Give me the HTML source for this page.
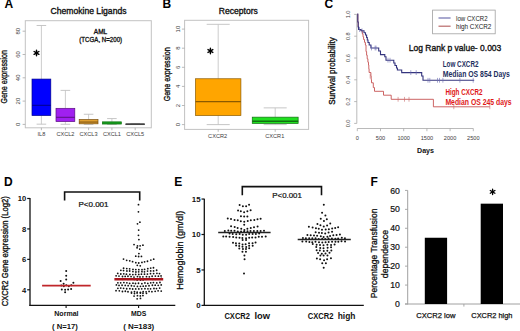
<!DOCTYPE html>
<html><head><meta charset="utf-8"><style>
html,body{margin:0;padding:0;background:#fff;width:520px;height:331px;overflow:hidden}
svg{display:block}
text{font-family:"Liberation Sans", sans-serif}
</style></head><body>
<svg width="520" height="331" viewBox="0 0 520 331">
<rect width="520" height="331" fill="#fff"/>
<text x="4.5" y="8.4" font-size="12" fill="#000" font-weight="bold" text-anchor="start">A</text>
<text x="162.6" y="8.1" font-size="12" fill="#000" font-weight="bold" text-anchor="start">B</text>
<text x="324.6" y="8.3" font-size="12" fill="#000" font-weight="bold" text-anchor="start">C</text>
<text x="3.9" y="186.4" font-size="12" fill="#000" font-weight="bold" text-anchor="start">D</text>
<text x="174.2" y="186.4" font-size="12" fill="#000" font-weight="bold" text-anchor="start">E</text>
<text x="370.6" y="185.8" font-size="12" fill="#000" font-weight="bold" text-anchor="start">F</text>
<rect x="25.30" y="20.70" width="126.00" height="107.10" fill="none" stroke="#c2c2c2" stroke-width="1"/>
<text x="50.5" y="13.8" font-size="9.0" fill="#111" font-weight="normal" text-anchor="start" textLength="76" lengthAdjust="spacingAndGlyphs" stroke="#111" stroke-width="0.35">Chemokine Ligands</text>
<text x="100.5" y="33.8" font-size="6.4" fill="#111" font-weight="normal" text-anchor="middle" textLength="13.4" lengthAdjust="spacingAndGlyphs" stroke="#111" stroke-width="0.3">AML</text>
<text x="100.7" y="42.4" font-size="6.4" fill="#111" font-weight="normal" text-anchor="middle" textLength="42.8" lengthAdjust="spacingAndGlyphs" stroke="#111" stroke-width="0.3">(TCGA, N=200)</text>
<line x1="22.60" y1="124.40" x2="25.30" y2="124.40" stroke="#a8a8a8" stroke-width="0.8"/>
<text transform="translate(19.7,124.4) rotate(-90)" font-size="6.0" fill="#3c3c3c" font-weight="normal" text-anchor="middle">0</text>
<line x1="22.60" y1="101.10" x2="25.30" y2="101.10" stroke="#a8a8a8" stroke-width="0.8"/>
<text transform="translate(19.7,101.10000000000001) rotate(-90)" font-size="6.0" fill="#3c3c3c" font-weight="normal" text-anchor="middle">20</text>
<line x1="22.60" y1="77.80" x2="25.30" y2="77.80" stroke="#a8a8a8" stroke-width="0.8"/>
<text transform="translate(19.7,77.80000000000001) rotate(-90)" font-size="6.0" fill="#3c3c3c" font-weight="normal" text-anchor="middle">40</text>
<line x1="22.60" y1="54.50" x2="25.30" y2="54.50" stroke="#a8a8a8" stroke-width="0.8"/>
<text transform="translate(19.7,54.5) rotate(-90)" font-size="6.0" fill="#3c3c3c" font-weight="normal" text-anchor="middle">60</text>
<line x1="22.60" y1="31.20" x2="25.30" y2="31.20" stroke="#a8a8a8" stroke-width="0.8"/>
<text transform="translate(19.7,31.200000000000003) rotate(-90)" font-size="6.0" fill="#3c3c3c" font-weight="normal" text-anchor="middle">80</text>
<text transform="translate(6.8,76.8) rotate(-90)" font-size="9.3" fill="#111" font-weight="normal" text-anchor="middle" textLength="53.6" lengthAdjust="spacingAndGlyphs" stroke="#111" stroke-width="0.35">Gene expression</text>
<line x1="41.40" y1="79.08" x2="41.40" y2="25.49" stroke="#c0c0c0" stroke-width="0.8"/>
<line x1="36.60" y1="25.49" x2="46.20" y2="25.49" stroke="#c0c0c0" stroke-width="0.9"/>
<line x1="41.40" y1="115.55" x2="41.40" y2="124.17" stroke="#c0c0c0" stroke-width="0.8"/>
<line x1="36.60" y1="124.17" x2="46.20" y2="124.17" stroke="#c0c0c0" stroke-width="0.9"/>
<rect x="32.00" y="79.08" width="18.80" height="36.46" fill="#0000ff" stroke="#00008a" stroke-width="0.7"/>
<line x1="32.00" y1="105.29" x2="50.80" y2="105.29" stroke="#00008a" stroke-width="1.0"/>
<line x1="41.40" y1="127.80" x2="41.40" y2="130.20" stroke="#a8a8a8" stroke-width="0.8"/>
<line x1="65.40" y1="108.32" x2="65.40" y2="90.38" stroke="#c0c0c0" stroke-width="0.8"/>
<line x1="60.60" y1="90.38" x2="70.20" y2="90.38" stroke="#c0c0c0" stroke-width="0.9"/>
<line x1="65.40" y1="121.60" x2="65.40" y2="124.28" stroke="#c0c0c0" stroke-width="0.8"/>
<line x1="60.60" y1="124.28" x2="70.20" y2="124.28" stroke="#c0c0c0" stroke-width="0.9"/>
<rect x="56.00" y="108.32" width="18.80" height="13.28" fill="#a020f0" stroke="#5a1080" stroke-width="0.7"/>
<line x1="56.00" y1="117.29" x2="74.80" y2="117.29" stroke="#5a1080" stroke-width="1.0"/>
<line x1="65.40" y1="127.80" x2="65.40" y2="130.20" stroke="#a8a8a8" stroke-width="0.8"/>
<line x1="88.60" y1="119.51" x2="88.60" y2="114.26" stroke="#c0c0c0" stroke-width="0.8"/>
<line x1="83.80" y1="114.26" x2="93.40" y2="114.26" stroke="#c0c0c0" stroke-width="0.9"/>
<line x1="88.60" y1="123.82" x2="88.60" y2="124.40" stroke="#c0c0c0" stroke-width="0.8"/>
<line x1="83.80" y1="124.40" x2="93.40" y2="124.40" stroke="#c0c0c0" stroke-width="0.9"/>
<rect x="79.20" y="119.51" width="18.80" height="4.31" fill="#e0a030" stroke="#7a5010" stroke-width="0.7"/>
<line x1="79.20" y1="122.07" x2="98.00" y2="122.07" stroke="#7a5010" stroke-width="1.0"/>
<line x1="88.60" y1="127.80" x2="88.60" y2="130.20" stroke="#a8a8a8" stroke-width="0.8"/>
<line x1="111.90" y1="121.84" x2="111.90" y2="118.58" stroke="#c0c0c0" stroke-width="0.8"/>
<line x1="107.10" y1="118.58" x2="116.70" y2="118.58" stroke="#c0c0c0" stroke-width="0.9"/>
<line x1="111.90" y1="124.05" x2="111.90" y2="124.40" stroke="#c0c0c0" stroke-width="0.8"/>
<line x1="107.10" y1="124.40" x2="116.70" y2="124.40" stroke="#c0c0c0" stroke-width="0.9"/>
<rect x="102.50" y="121.84" width="18.80" height="2.21" fill="#18c828" stroke="#127012" stroke-width="0.7"/>
<line x1="102.50" y1="123.00" x2="121.30" y2="123.00" stroke="#127012" stroke-width="1.0"/>
<line x1="111.90" y1="127.80" x2="111.90" y2="130.20" stroke="#a8a8a8" stroke-width="0.8"/>
<line x1="135.20" y1="123.88" x2="135.20" y2="123.47" stroke="#c0c0c0" stroke-width="0.8"/>
<line x1="130.40" y1="123.47" x2="140.00" y2="123.47" stroke="#c0c0c0" stroke-width="0.9"/>
<line x1="135.20" y1="124.23" x2="135.20" y2="124.40" stroke="#c0c0c0" stroke-width="0.8"/>
<line x1="130.40" y1="124.40" x2="140.00" y2="124.40" stroke="#c0c0c0" stroke-width="0.9"/>
<rect x="125.80" y="123.88" width="18.80" height="0.80" fill="#707070" stroke="#404040" stroke-width="0.7"/>
<line x1="125.80" y1="124.05" x2="144.60" y2="124.05" stroke="#404040" stroke-width="1.0"/>
<line x1="135.20" y1="127.80" x2="135.20" y2="130.20" stroke="#a8a8a8" stroke-width="0.8"/>
<text x="41.4" y="136.4" font-size="5.6" fill="#3c3c3c" font-weight="normal" text-anchor="middle">IL8</text>
<text x="65.4" y="136.4" font-size="5.6" fill="#3c3c3c" font-weight="normal" text-anchor="middle">CXCL2</text>
<text x="88.6" y="136.4" font-size="5.6" fill="#3c3c3c" font-weight="normal" text-anchor="middle">CXCL3</text>
<text x="111.9" y="136.4" font-size="5.6" fill="#3c3c3c" font-weight="normal" text-anchor="middle">CXCL1</text>
<text x="135.2" y="136.4" font-size="5.6" fill="#3c3c3c" font-weight="normal" text-anchor="middle">CXCL5</text>
<path d="M36.50,50.10L36.50,55.70M34.08,51.50L38.92,54.30M38.92,51.50L34.08,54.30" stroke="#000" stroke-width="1.4" stroke-linecap="round"/>
<circle cx="36.5" cy="52.9" r="1.26" fill="#000"/>
<rect x="184.60" y="20.30" width="124.00" height="109.10" fill="none" stroke="#c2c2c2" stroke-width="1"/>
<text x="218.8" y="13.5" font-size="9.0" fill="#111" font-weight="normal" text-anchor="start" textLength="39" lengthAdjust="spacingAndGlyphs" stroke="#111" stroke-width="0.35">Receptors</text>
<line x1="181.90" y1="124.60" x2="184.60" y2="124.60" stroke="#a8a8a8" stroke-width="0.8"/>
<text transform="translate(179.5,124.6) rotate(-90)" font-size="6.0" fill="#3c3c3c" font-weight="normal" text-anchor="middle">0</text>
<line x1="181.90" y1="105.50" x2="184.60" y2="105.50" stroke="#a8a8a8" stroke-width="0.8"/>
<text transform="translate(179.5,105.5) rotate(-90)" font-size="6.0" fill="#3c3c3c" font-weight="normal" text-anchor="middle">2</text>
<line x1="181.90" y1="86.40" x2="184.60" y2="86.40" stroke="#a8a8a8" stroke-width="0.8"/>
<text transform="translate(179.5,86.39999999999999) rotate(-90)" font-size="6.0" fill="#3c3c3c" font-weight="normal" text-anchor="middle">4</text>
<line x1="181.90" y1="67.30" x2="184.60" y2="67.30" stroke="#a8a8a8" stroke-width="0.8"/>
<text transform="translate(179.5,67.29999999999998) rotate(-90)" font-size="6.0" fill="#3c3c3c" font-weight="normal" text-anchor="middle">6</text>
<line x1="181.90" y1="48.20" x2="184.60" y2="48.20" stroke="#a8a8a8" stroke-width="0.8"/>
<text transform="translate(179.5,48.19999999999999) rotate(-90)" font-size="6.0" fill="#3c3c3c" font-weight="normal" text-anchor="middle">8</text>
<line x1="181.90" y1="29.10" x2="184.60" y2="29.10" stroke="#a8a8a8" stroke-width="0.8"/>
<text transform="translate(179.5,29.099999999999994) rotate(-90)" font-size="6.0" fill="#3c3c3c" font-weight="normal" text-anchor="middle">10</text>
<text transform="translate(169.6,74.2) rotate(-90)" font-size="9.3" fill="#111" font-weight="normal" text-anchor="middle" textLength="54" lengthAdjust="spacingAndGlyphs" stroke="#111" stroke-width="0.35">Gene expression</text>
<line x1="218.20" y1="78.76" x2="218.20" y2="24.32" stroke="#c0c0c0" stroke-width="0.8"/>
<line x1="206.70" y1="24.32" x2="229.70" y2="24.32" stroke="#c0c0c0" stroke-width="0.9"/>
<line x1="218.20" y1="115.53" x2="218.20" y2="124.60" stroke="#c0c0c0" stroke-width="0.8"/>
<line x1="206.70" y1="124.60" x2="229.70" y2="124.60" stroke="#c0c0c0" stroke-width="0.9"/>
<rect x="195.50" y="78.76" width="45.40" height="36.77" fill="#ffa500" stroke="#8a5a00" stroke-width="0.7"/>
<line x1="195.50" y1="101.68" x2="240.90" y2="101.68" stroke="#8a5a00" stroke-width="1.3"/>
<line x1="218.20" y1="129.40" x2="218.20" y2="131.80" stroke="#a8a8a8" stroke-width="0.8"/>
<line x1="275.20" y1="117.15" x2="275.20" y2="107.89" stroke="#c0c0c0" stroke-width="0.8"/>
<line x1="263.70" y1="107.89" x2="286.70" y2="107.89" stroke="#c0c0c0" stroke-width="0.9"/>
<line x1="275.20" y1="123.45" x2="275.20" y2="124.60" stroke="#c0c0c0" stroke-width="0.8"/>
<line x1="263.70" y1="124.60" x2="286.70" y2="124.60" stroke="#c0c0c0" stroke-width="0.9"/>
<rect x="252.25" y="117.15" width="45.90" height="6.30" fill="#20e020" stroke="#107010" stroke-width="0.7"/>
<line x1="252.25" y1="121.26" x2="298.15" y2="121.26" stroke="#107010" stroke-width="1.3"/>
<line x1="275.20" y1="129.40" x2="275.20" y2="131.80" stroke="#a8a8a8" stroke-width="0.8"/>
<text x="217.6" y="137.8" font-size="5.6" fill="#3c3c3c" font-weight="normal" text-anchor="middle">CXCR2</text>
<text x="274.8" y="137.8" font-size="5.6" fill="#3c3c3c" font-weight="normal" text-anchor="middle">CXCR1</text>
<path d="M210.40,48.20L210.40,53.80M207.98,49.60L212.82,52.40M212.82,49.60L207.98,52.40" stroke="#000" stroke-width="1.4" stroke-linecap="round"/>
<circle cx="210.4" cy="51.0" r="1.26" fill="#000"/>
<line x1="356.80" y1="14.40" x2="356.80" y2="123.40" stroke="#a8a8a8" stroke-width="0.8"/>
<line x1="354.20" y1="123.40" x2="356.80" y2="123.40" stroke="#a8a8a8" stroke-width="0.8"/>
<text transform="translate(350.2,123.4) rotate(-90)" font-size="5.6" fill="#3c3c3c" font-weight="normal" text-anchor="middle">0.0</text>
<line x1="354.20" y1="101.60" x2="356.80" y2="101.60" stroke="#a8a8a8" stroke-width="0.8"/>
<text transform="translate(350.2,101.60000000000001) rotate(-90)" font-size="5.6" fill="#3c3c3c" font-weight="normal" text-anchor="middle">0.2</text>
<line x1="354.20" y1="79.80" x2="356.80" y2="79.80" stroke="#a8a8a8" stroke-width="0.8"/>
<text transform="translate(350.2,79.80000000000001) rotate(-90)" font-size="5.6" fill="#3c3c3c" font-weight="normal" text-anchor="middle">0.4</text>
<line x1="354.20" y1="58.00" x2="356.80" y2="58.00" stroke="#a8a8a8" stroke-width="0.8"/>
<text transform="translate(350.2,58.000000000000014) rotate(-90)" font-size="5.6" fill="#3c3c3c" font-weight="normal" text-anchor="middle">0.6</text>
<line x1="354.20" y1="36.20" x2="356.80" y2="36.20" stroke="#a8a8a8" stroke-width="0.8"/>
<text transform="translate(350.2,36.2) rotate(-90)" font-size="5.6" fill="#3c3c3c" font-weight="normal" text-anchor="middle">0.8</text>
<line x1="354.20" y1="14.40" x2="356.80" y2="14.40" stroke="#a8a8a8" stroke-width="0.8"/>
<text transform="translate(350.2,14.400000000000006) rotate(-90)" font-size="5.6" fill="#3c3c3c" font-weight="normal" text-anchor="middle">1.0</text>
<line x1="357.30" y1="128.50" x2="473.30" y2="128.50" stroke="#a8a8a8" stroke-width="0.8"/>
<line x1="357.30" y1="128.50" x2="357.30" y2="131.20" stroke="#a8a8a8" stroke-width="0.8"/>
<text x="357.3" y="140.0" font-size="5.6" fill="#3c3c3c" font-weight="normal" text-anchor="middle">0</text>
<line x1="380.50" y1="128.50" x2="380.50" y2="131.20" stroke="#a8a8a8" stroke-width="0.8"/>
<text x="380.5" y="140.0" font-size="5.6" fill="#3c3c3c" font-weight="normal" text-anchor="middle">500</text>
<line x1="403.70" y1="128.50" x2="403.70" y2="131.20" stroke="#a8a8a8" stroke-width="0.8"/>
<text x="403.7" y="140.0" font-size="5.6" fill="#3c3c3c" font-weight="normal" text-anchor="middle">1000</text>
<line x1="426.90" y1="128.50" x2="426.90" y2="131.20" stroke="#a8a8a8" stroke-width="0.8"/>
<text x="426.9" y="140.0" font-size="5.6" fill="#3c3c3c" font-weight="normal" text-anchor="middle">1500</text>
<line x1="450.10" y1="128.50" x2="450.10" y2="131.20" stroke="#a8a8a8" stroke-width="0.8"/>
<text x="450.1" y="140.0" font-size="5.6" fill="#3c3c3c" font-weight="normal" text-anchor="middle">2000</text>
<line x1="473.30" y1="128.50" x2="473.30" y2="131.20" stroke="#a8a8a8" stroke-width="0.8"/>
<text x="473.3" y="140.0" font-size="5.6" fill="#3c3c3c" font-weight="normal" text-anchor="middle">2500</text>
<text x="425.5" y="153.0" font-size="8.0" fill="#111" font-weight="bold" text-anchor="middle" textLength="17" lengthAdjust="spacingAndGlyphs">Days</text>
<text transform="translate(335.2,71.0) rotate(-90)" font-size="9.3" fill="#111" font-weight="normal" text-anchor="middle" textLength="67.3" lengthAdjust="spacingAndGlyphs" stroke="#111" stroke-width="0.35">Survival probability</text>
<rect x="432.60" y="10.10" width="62.60" height="23.70" fill="#fff" stroke="#a0a0a0" stroke-width="0.8"/>
<line x1="438.50" y1="18.00" x2="450.60" y2="18.00" stroke="#7070b0" stroke-width="1.2"/>
<line x1="438.50" y1="26.20" x2="450.60" y2="26.20" stroke="#b86868" stroke-width="1.2"/>
<text x="456.1" y="20.5" font-size="6.3" fill="#222" font-weight="normal" text-anchor="start" textLength="31.5" lengthAdjust="spacingAndGlyphs">low CXCR2</text>
<text x="456.1" y="28.6" font-size="6.3" fill="#222" font-weight="normal" text-anchor="start" textLength="35.3" lengthAdjust="spacingAndGlyphs">high CXCR2</text>
<text x="408.8" y="50.6" font-size="9.0" fill="#111" font-weight="normal" text-anchor="start" textLength="92.5" lengthAdjust="spacingAndGlyphs" stroke="#111" stroke-width="0.35">Log Rank p value- 0.003</text>
<text x="442.7" y="66.9" font-size="8.4" fill="#1c2f5e" font-weight="bold" text-anchor="start" textLength="35.8" lengthAdjust="spacingAndGlyphs">Low CXCR2</text>
<text x="442.7" y="76.5" font-size="8.4" fill="#1c2f5e" font-weight="bold" text-anchor="start" textLength="67.2" lengthAdjust="spacingAndGlyphs">Median OS 854 Days</text>
<text x="445.4" y="95.3" font-size="8.4" fill="#e01818" font-weight="bold" text-anchor="start" textLength="37.2" lengthAdjust="spacingAndGlyphs">High CXCR2</text>
<text x="445.4" y="104.9" font-size="8.4" fill="#e01818" font-weight="bold" text-anchor="start" textLength="66.3" lengthAdjust="spacingAndGlyphs">Median OS 245 days</text>
<polyline points="357.30,14.10 357.80,14.10 357.80,22.00 358.20,22.00 358.20,27.00 358.60,27.00 358.60,29.50 361.00,29.50 361.00,30.80 362.40,30.80 362.40,34.00 363.00,34.00 363.00,36.80 363.60,36.80 363.60,39.50 364.50,39.50 364.50,42.30 365.40,42.30 365.40,45.00 366.00,45.00 366.00,51.60 366.60,51.60 366.60,55.20 367.20,55.20 367.20,58.80 367.90,58.80 367.90,62.20 368.50,62.20 368.50,65.00 368.80,65.00 368.80,68.80 369.10,68.80 369.10,72.50 370.90,72.50 370.90,76.10 371.20,76.10 371.20,79.50 371.50,79.50 371.50,82.80 373.30,82.80 373.30,87.60 374.50,87.60 374.50,91.30 383.50,91.30 383.50,95.20 391.20,95.20 391.20,99.30 433.40,99.30 433.40,106.80 489.80,106.80 489.80,106.80" fill="none" stroke="#c65252" stroke-width="0.9" stroke-linejoin="miter"/>
<polyline points="357.30,14.10 357.80,14.10 357.80,22.00 358.20,22.00 358.20,27.00 358.60,27.00 358.60,29.50 361.00,29.50 361.00,30.80 364.00,30.80 364.00,32.80 365.50,32.80 365.50,35.00 366.60,35.00 366.60,37.50 367.30,37.50 367.30,40.00 368.00,40.00 368.00,42.50 369.20,42.50 369.20,45.00 370.90,45.00 370.90,48.00 378.70,48.00 378.70,51.00 380.50,51.00 380.50,54.60 384.80,54.60 384.80,56.80 386.00,56.80 386.00,60.20 393.80,60.20 393.80,63.00 395.00,63.00 395.00,65.50 396.50,65.50 396.50,68.00 397.40,68.00 397.40,70.00 401.70,70.00 401.70,72.60 421.70,72.60 421.70,76.00 423.00,76.00 423.00,80.30 474.20,80.30 474.20,80.30" fill="none" stroke="#34347e" stroke-width="1.1" stroke-linejoin="miter"/>
<line x1="359.50" y1="27.10" x2="359.50" y2="31.90" stroke="#6a6ab0" stroke-width="0.6"/>
<line x1="362.00" y1="28.40" x2="362.00" y2="33.20" stroke="#6a6ab0" stroke-width="0.6"/>
<line x1="371.50" y1="45.60" x2="371.50" y2="50.40" stroke="#6a6ab0" stroke-width="0.6"/>
<line x1="375.10" y1="45.60" x2="375.10" y2="50.40" stroke="#6a6ab0" stroke-width="0.6"/>
<line x1="376.00" y1="45.60" x2="376.00" y2="50.40" stroke="#6a6ab0" stroke-width="0.6"/>
<line x1="388.00" y1="57.80" x2="388.00" y2="62.60" stroke="#6a6ab0" stroke-width="0.6"/>
<line x1="390.00" y1="57.80" x2="390.00" y2="62.60" stroke="#6a6ab0" stroke-width="0.6"/>
<line x1="410.80" y1="70.20" x2="410.80" y2="75.00" stroke="#6a6ab0" stroke-width="0.6"/>
<line x1="416.20" y1="70.20" x2="416.20" y2="75.00" stroke="#6a6ab0" stroke-width="0.6"/>
<line x1="428.00" y1="77.90" x2="428.00" y2="82.70" stroke="#6a6ab0" stroke-width="0.6"/>
<line x1="429.80" y1="77.90" x2="429.80" y2="82.70" stroke="#6a6ab0" stroke-width="0.6"/>
<line x1="437.50" y1="77.90" x2="437.50" y2="82.70" stroke="#6a6ab0" stroke-width="0.6"/>
<line x1="439.50" y1="77.90" x2="439.50" y2="82.70" stroke="#6a6ab0" stroke-width="0.6"/>
<line x1="442.90" y1="77.90" x2="442.90" y2="82.70" stroke="#6a6ab0" stroke-width="0.6"/>
<line x1="459.90" y1="77.90" x2="459.90" y2="82.70" stroke="#6a6ab0" stroke-width="0.6"/>
<line x1="473.20" y1="77.90" x2="473.20" y2="82.70" stroke="#6a6ab0" stroke-width="0.6"/>
<line x1="370.20" y1="73.70" x2="370.20" y2="78.50" stroke="#c86a6a" stroke-width="0.6"/>
<line x1="398.10" y1="96.90" x2="398.10" y2="101.70" stroke="#c86a6a" stroke-width="0.6"/>
<line x1="404.50" y1="96.90" x2="404.50" y2="101.70" stroke="#c86a6a" stroke-width="0.6"/>
<line x1="409.00" y1="96.90" x2="409.00" y2="101.70" stroke="#c86a6a" stroke-width="0.6"/>
<line x1="453.80" y1="104.40" x2="453.80" y2="109.20" stroke="#c86a6a" stroke-width="0.6"/>
<line x1="489.80" y1="104.40" x2="489.80" y2="109.20" stroke="#c86a6a" stroke-width="0.6"/>
<line x1="30.00" y1="198.00" x2="30.00" y2="306.00" stroke="#111" stroke-width="1.3"/>
<line x1="29.40" y1="305.40" x2="175.30" y2="305.40" stroke="#111" stroke-width="1.3"/>
<line x1="27.20" y1="289.80" x2="30.00" y2="289.80" stroke="#111" stroke-width="1.2"/>
<text x="26.3" y="292.5" font-size="7.6" fill="#111" font-weight="bold" text-anchor="end">4</text>
<line x1="27.20" y1="259.36" x2="30.00" y2="259.36" stroke="#111" stroke-width="1.2"/>
<text x="26.3" y="262.06" font-size="7.6" fill="#111" font-weight="bold" text-anchor="end">6</text>
<line x1="27.20" y1="228.92" x2="30.00" y2="228.92" stroke="#111" stroke-width="1.2"/>
<text x="26.3" y="231.62" font-size="7.6" fill="#111" font-weight="bold" text-anchor="end">8</text>
<line x1="27.20" y1="198.48" x2="30.00" y2="198.48" stroke="#111" stroke-width="1.2"/>
<text x="26.3" y="201.18" font-size="7.6" fill="#111" font-weight="bold" text-anchor="end">10</text>
<line x1="66.10" y1="305.40" x2="66.10" y2="308.00" stroke="#111" stroke-width="1.1"/>
<line x1="138.60" y1="305.40" x2="138.60" y2="308.00" stroke="#111" stroke-width="1.1"/>
<polyline points="64.60,200.50 64.60,192.00 139.70,192.00 139.70,200.50" fill="none" stroke="#111" stroke-width="1.6" stroke-linejoin="miter"/>
<text x="78.5" y="206.6" font-size="7.4" fill="#111" font-weight="normal" text-anchor="start" textLength="30" lengthAdjust="spacingAndGlyphs" stroke="#111" stroke-width="0.22">P&lt;0.001</text>
<text x="66.4" y="316.4" font-size="7.1" fill="#111" font-weight="bold" text-anchor="middle" textLength="24.3" lengthAdjust="spacingAndGlyphs">Normal</text>
<text x="65.0" y="328.6" font-size="7.1" fill="#111" font-weight="bold" text-anchor="middle" textLength="25.9" lengthAdjust="spacingAndGlyphs">( N=17)</text>
<text x="138.7" y="316.4" font-size="7.1" fill="#111" font-weight="bold" text-anchor="middle" textLength="15.3" lengthAdjust="spacingAndGlyphs">MDS</text>
<text x="138.7" y="328.6" font-size="7.1" fill="#111" font-weight="bold" text-anchor="middle" textLength="31.1" lengthAdjust="spacingAndGlyphs">( N=183)</text>
<text transform="translate(7.6,251.3) rotate(-90)" font-size="9.2" fill="#111" font-weight="normal" text-anchor="middle" textLength="110" lengthAdjust="spacingAndGlyphs" stroke="#111" stroke-width="0.35">CXCR2 Gene expression (Log2)</text>
<circle cx="66.20" cy="271.10" r="1.0" fill="#111"/>
<circle cx="66.20" cy="275.70" r="1.0" fill="#111"/>
<circle cx="66.20" cy="279.50" r="1.0" fill="#111"/>
<circle cx="60.60" cy="281.00" r="1.0" fill="#111"/>
<circle cx="73.40" cy="282.80" r="1.0" fill="#111"/>
<circle cx="61.30" cy="285.50" r="1.0" fill="#111"/>
<circle cx="63.80" cy="286.20" r="1.0" fill="#111"/>
<circle cx="66.30" cy="285.20" r="1.0" fill="#111"/>
<circle cx="68.80" cy="286.30" r="1.0" fill="#111"/>
<circle cx="71.30" cy="285.30" r="1.0" fill="#111"/>
<circle cx="61.80" cy="289.40" r="1.0" fill="#111"/>
<circle cx="65.10" cy="289.80" r="1.0" fill="#111"/>
<circle cx="68.10" cy="289.60" r="1.0" fill="#111"/>
<circle cx="71.10" cy="288.90" r="1.0" fill="#111"/>
<circle cx="65.10" cy="292.20" r="1.0" fill="#111"/>
<circle cx="63.60" cy="283.80" r="1.0" fill="#111"/>
<circle cx="138.49" cy="204.68" r="0.9" fill="#111"/>
<circle cx="138.44" cy="211.81" r="0.9" fill="#111"/>
<circle cx="139.92" cy="222.13" r="0.9" fill="#111"/>
<circle cx="137.50" cy="223.79" r="0.9" fill="#111"/>
<circle cx="138.66" cy="230.08" r="0.9" fill="#111"/>
<circle cx="138.45" cy="235.30" r="0.9" fill="#111"/>
<circle cx="138.90" cy="239.55" r="0.9" fill="#111"/>
<circle cx="134.03" cy="244.54" r="0.9" fill="#111"/>
<circle cx="137.47" cy="245.89" r="0.9" fill="#111"/>
<circle cx="140.14" cy="245.85" r="0.9" fill="#111"/>
<circle cx="142.93" cy="245.13" r="0.9" fill="#111"/>
<circle cx="137.07" cy="247.75" r="0.9" fill="#111"/>
<circle cx="139.77" cy="249.05" r="0.9" fill="#111"/>
<circle cx="138.89" cy="253.57" r="0.9" fill="#111"/>
<circle cx="135.75" cy="256.18" r="0.9" fill="#111"/>
<circle cx="138.62" cy="256.50" r="0.9" fill="#111"/>
<circle cx="141.44" cy="256.43" r="0.9" fill="#111"/>
<circle cx="123.52" cy="259.09" r="0.9" fill="#111"/>
<circle cx="126.66" cy="260.29" r="0.9" fill="#111"/>
<circle cx="129.75" cy="260.79" r="0.9" fill="#111"/>
<circle cx="132.58" cy="261.65" r="0.9" fill="#111"/>
<circle cx="135.82" cy="262.65" r="0.9" fill="#111"/>
<circle cx="138.74" cy="263.02" r="0.9" fill="#111"/>
<circle cx="141.93" cy="262.46" r="0.9" fill="#111"/>
<circle cx="144.57" cy="261.84" r="0.9" fill="#111"/>
<circle cx="147.47" cy="261.26" r="0.9" fill="#111"/>
<circle cx="150.85" cy="260.10" r="0.9" fill="#111"/>
<circle cx="153.69" cy="259.16" r="0.9" fill="#111"/>
<circle cx="137.30" cy="265.28" r="0.9" fill="#111"/>
<circle cx="140.24" cy="265.79" r="0.9" fill="#111"/>
<circle cx="123.59" cy="268.26" r="0.9" fill="#111"/>
<circle cx="126.76" cy="268.54" r="0.9" fill="#111"/>
<circle cx="129.67" cy="268.86" r="0.9" fill="#111"/>
<circle cx="132.97" cy="269.44" r="0.9" fill="#111"/>
<circle cx="135.80" cy="269.58" r="0.9" fill="#111"/>
<circle cx="138.82" cy="269.69" r="0.9" fill="#111"/>
<circle cx="142.00" cy="269.70" r="0.9" fill="#111"/>
<circle cx="144.57" cy="269.43" r="0.9" fill="#111"/>
<circle cx="147.80" cy="268.72" r="0.9" fill="#111"/>
<circle cx="150.68" cy="268.07" r="0.9" fill="#111"/>
<circle cx="153.47" cy="267.77" r="0.9" fill="#111"/>
<circle cx="120.86" cy="270.29" r="0.9" fill="#111"/>
<circle cx="123.55" cy="270.57" r="0.9" fill="#111"/>
<circle cx="126.92" cy="270.99" r="0.9" fill="#111"/>
<circle cx="129.67" cy="271.01" r="0.9" fill="#111"/>
<circle cx="132.93" cy="271.57" r="0.9" fill="#111"/>
<circle cx="135.92" cy="271.99" r="0.9" fill="#111"/>
<circle cx="138.65" cy="271.84" r="0.9" fill="#111"/>
<circle cx="141.93" cy="271.67" r="0.9" fill="#111"/>
<circle cx="144.49" cy="271.85" r="0.9" fill="#111"/>
<circle cx="147.54" cy="271.07" r="0.9" fill="#111"/>
<circle cx="150.69" cy="270.88" r="0.9" fill="#111"/>
<circle cx="153.56" cy="270.90" r="0.9" fill="#111"/>
<circle cx="156.65" cy="270.25" r="0.9" fill="#111"/>
<circle cx="117.74" cy="273.41" r="0.9" fill="#111"/>
<circle cx="120.81" cy="273.99" r="0.9" fill="#111"/>
<circle cx="123.77" cy="273.85" r="0.9" fill="#111"/>
<circle cx="126.43" cy="274.14" r="0.9" fill="#111"/>
<circle cx="129.87" cy="274.47" r="0.9" fill="#111"/>
<circle cx="132.88" cy="274.62" r="0.9" fill="#111"/>
<circle cx="135.64" cy="274.45" r="0.9" fill="#111"/>
<circle cx="138.78" cy="274.42" r="0.9" fill="#111"/>
<circle cx="141.44" cy="274.22" r="0.9" fill="#111"/>
<circle cx="144.50" cy="274.15" r="0.9" fill="#111"/>
<circle cx="147.43" cy="274.07" r="0.9" fill="#111"/>
<circle cx="150.49" cy="273.66" r="0.9" fill="#111"/>
<circle cx="153.62" cy="273.56" r="0.9" fill="#111"/>
<circle cx="156.92" cy="273.34" r="0.9" fill="#111"/>
<circle cx="159.49" cy="273.58" r="0.9" fill="#111"/>
<circle cx="116.11" cy="275.83" r="0.9" fill="#111"/>
<circle cx="118.97" cy="276.04" r="0.9" fill="#111"/>
<circle cx="122.50" cy="276.51" r="0.9" fill="#111"/>
<circle cx="125.19" cy="276.38" r="0.9" fill="#111"/>
<circle cx="127.96" cy="276.24" r="0.9" fill="#111"/>
<circle cx="131.06" cy="276.56" r="0.9" fill="#111"/>
<circle cx="134.00" cy="277.03" r="0.9" fill="#111"/>
<circle cx="137.47" cy="276.60" r="0.9" fill="#111"/>
<circle cx="139.99" cy="276.95" r="0.9" fill="#111"/>
<circle cx="142.92" cy="276.83" r="0.9" fill="#111"/>
<circle cx="146.49" cy="276.69" r="0.9" fill="#111"/>
<circle cx="149.32" cy="276.79" r="0.9" fill="#111"/>
<circle cx="152.12" cy="276.23" r="0.9" fill="#111"/>
<circle cx="155.36" cy="276.03" r="0.9" fill="#111"/>
<circle cx="158.37" cy="276.16" r="0.9" fill="#111"/>
<circle cx="161.03" cy="275.88" r="0.9" fill="#111"/>
<circle cx="116.49" cy="279.02" r="0.9" fill="#111"/>
<circle cx="119.38" cy="279.18" r="0.9" fill="#111"/>
<circle cx="122.34" cy="279.29" r="0.9" fill="#111"/>
<circle cx="125.21" cy="279.01" r="0.9" fill="#111"/>
<circle cx="127.92" cy="279.23" r="0.9" fill="#111"/>
<circle cx="131.07" cy="279.14" r="0.9" fill="#111"/>
<circle cx="134.32" cy="279.43" r="0.9" fill="#111"/>
<circle cx="137.17" cy="280.05" r="0.9" fill="#111"/>
<circle cx="140.49" cy="280.04" r="0.9" fill="#111"/>
<circle cx="143.12" cy="279.92" r="0.9" fill="#111"/>
<circle cx="146.04" cy="279.27" r="0.9" fill="#111"/>
<circle cx="149.02" cy="279.12" r="0.9" fill="#111"/>
<circle cx="152.44" cy="279.29" r="0.9" fill="#111"/>
<circle cx="155.19" cy="279.30" r="0.9" fill="#111"/>
<circle cx="158.38" cy="279.04" r="0.9" fill="#111"/>
<circle cx="161.30" cy="278.51" r="0.9" fill="#111"/>
<circle cx="117.87" cy="282.79" r="0.9" fill="#111"/>
<circle cx="120.69" cy="282.82" r="0.9" fill="#111"/>
<circle cx="123.87" cy="282.56" r="0.9" fill="#111"/>
<circle cx="126.88" cy="282.81" r="0.9" fill="#111"/>
<circle cx="129.64" cy="283.40" r="0.9" fill="#111"/>
<circle cx="132.97" cy="283.15" r="0.9" fill="#111"/>
<circle cx="135.50" cy="283.51" r="0.9" fill="#111"/>
<circle cx="138.49" cy="283.24" r="0.9" fill="#111"/>
<circle cx="141.88" cy="283.64" r="0.9" fill="#111"/>
<circle cx="144.90" cy="282.97" r="0.9" fill="#111"/>
<circle cx="147.79" cy="283.41" r="0.9" fill="#111"/>
<circle cx="150.73" cy="282.82" r="0.9" fill="#111"/>
<circle cx="153.41" cy="282.53" r="0.9" fill="#111"/>
<circle cx="156.79" cy="282.97" r="0.9" fill="#111"/>
<circle cx="159.96" cy="282.52" r="0.9" fill="#111"/>
<circle cx="116.42" cy="284.95" r="0.9" fill="#111"/>
<circle cx="119.03" cy="285.43" r="0.9" fill="#111"/>
<circle cx="122.08" cy="285.23" r="0.9" fill="#111"/>
<circle cx="125.25" cy="285.42" r="0.9" fill="#111"/>
<circle cx="128.15" cy="285.63" r="0.9" fill="#111"/>
<circle cx="131.45" cy="285.74" r="0.9" fill="#111"/>
<circle cx="134.17" cy="286.10" r="0.9" fill="#111"/>
<circle cx="137.44" cy="286.46" r="0.9" fill="#111"/>
<circle cx="140.45" cy="286.34" r="0.9" fill="#111"/>
<circle cx="143.22" cy="286.20" r="0.9" fill="#111"/>
<circle cx="145.91" cy="286.02" r="0.9" fill="#111"/>
<circle cx="149.01" cy="285.76" r="0.9" fill="#111"/>
<circle cx="152.38" cy="285.25" r="0.9" fill="#111"/>
<circle cx="155.18" cy="285.17" r="0.9" fill="#111"/>
<circle cx="158.23" cy="285.36" r="0.9" fill="#111"/>
<circle cx="161.21" cy="284.88" r="0.9" fill="#111"/>
<circle cx="117.87" cy="288.34" r="0.9" fill="#111"/>
<circle cx="120.74" cy="288.11" r="0.9" fill="#111"/>
<circle cx="123.57" cy="288.30" r="0.9" fill="#111"/>
<circle cx="126.70" cy="288.75" r="0.9" fill="#111"/>
<circle cx="129.86" cy="288.69" r="0.9" fill="#111"/>
<circle cx="132.67" cy="289.02" r="0.9" fill="#111"/>
<circle cx="135.70" cy="288.89" r="0.9" fill="#111"/>
<circle cx="138.82" cy="288.91" r="0.9" fill="#111"/>
<circle cx="141.72" cy="288.78" r="0.9" fill="#111"/>
<circle cx="144.96" cy="288.71" r="0.9" fill="#111"/>
<circle cx="147.93" cy="288.78" r="0.9" fill="#111"/>
<circle cx="150.56" cy="288.87" r="0.9" fill="#111"/>
<circle cx="153.97" cy="288.51" r="0.9" fill="#111"/>
<circle cx="156.48" cy="288.62" r="0.9" fill="#111"/>
<circle cx="159.67" cy="288.04" r="0.9" fill="#111"/>
<circle cx="116.04" cy="290.70" r="0.9" fill="#111"/>
<circle cx="119.30" cy="290.86" r="0.9" fill="#111"/>
<circle cx="122.44" cy="291.52" r="0.9" fill="#111"/>
<circle cx="125.33" cy="291.24" r="0.9" fill="#111"/>
<circle cx="127.99" cy="291.75" r="0.9" fill="#111"/>
<circle cx="131.48" cy="292.07" r="0.9" fill="#111"/>
<circle cx="134.47" cy="291.76" r="0.9" fill="#111"/>
<circle cx="137.19" cy="292.05" r="0.9" fill="#111"/>
<circle cx="140.40" cy="292.46" r="0.9" fill="#111"/>
<circle cx="143.16" cy="291.72" r="0.9" fill="#111"/>
<circle cx="146.10" cy="291.81" r="0.9" fill="#111"/>
<circle cx="149.09" cy="291.43" r="0.9" fill="#111"/>
<circle cx="151.91" cy="291.64" r="0.9" fill="#111"/>
<circle cx="155.16" cy="291.36" r="0.9" fill="#111"/>
<circle cx="158.10" cy="290.82" r="0.9" fill="#111"/>
<circle cx="161.21" cy="291.09" r="0.9" fill="#111"/>
<circle cx="131.49" cy="293.10" r="0.9" fill="#111"/>
<circle cx="134.48" cy="293.60" r="0.9" fill="#111"/>
<circle cx="137.06" cy="293.12" r="0.9" fill="#111"/>
<circle cx="140.37" cy="293.08" r="0.9" fill="#111"/>
<circle cx="142.98" cy="293.24" r="0.9" fill="#111"/>
<circle cx="146.45" cy="293.35" r="0.9" fill="#111"/>
<circle cx="134.06" cy="296.12" r="0.9" fill="#111"/>
<circle cx="137.45" cy="295.65" r="0.9" fill="#111"/>
<circle cx="140.32" cy="295.95" r="0.9" fill="#111"/>
<circle cx="142.93" cy="295.61" r="0.9" fill="#111"/>
<circle cx="137.16" cy="298.83" r="0.9" fill="#111"/>
<circle cx="140.46" cy="298.40" r="0.9" fill="#111"/>
<line x1="42.10" y1="285.70" x2="90.70" y2="285.70" stroke="#c0262a" stroke-width="1.7"/>
<line x1="114.40" y1="279.30" x2="163.20" y2="279.30" stroke="#a8141c" stroke-width="2.6"/>
<line x1="204.30" y1="198.80" x2="204.30" y2="306.00" stroke="#111" stroke-width="1.3"/>
<line x1="203.70" y1="305.40" x2="363.80" y2="305.40" stroke="#111" stroke-width="1.3"/>
<line x1="201.50" y1="305.40" x2="204.30" y2="305.40" stroke="#111" stroke-width="1.2"/>
<text x="200.6" y="308.2" font-size="7.9" fill="#111" font-weight="bold" text-anchor="end">0</text>
<line x1="201.50" y1="269.95" x2="204.30" y2="269.95" stroke="#111" stroke-width="1.2"/>
<text x="200.6" y="272.75" font-size="7.9" fill="#111" font-weight="bold" text-anchor="end">5</text>
<line x1="201.50" y1="234.50" x2="204.30" y2="234.50" stroke="#111" stroke-width="1.2"/>
<text x="200.6" y="237.29999999999998" font-size="7.9" fill="#111" font-weight="bold" text-anchor="end">10</text>
<line x1="201.50" y1="199.05" x2="204.30" y2="199.05" stroke="#111" stroke-width="1.2"/>
<text x="200.6" y="201.85" font-size="7.9" fill="#111" font-weight="bold" text-anchor="end">15</text>
<polyline points="242.30,195.30 242.30,186.60 321.50,186.60 321.50,195.30" fill="none" stroke="#111" stroke-width="1.6" stroke-linejoin="miter"/>
<text x="272.3" y="197.8" font-size="7.6" fill="#111" font-weight="normal" text-anchor="start" textLength="29.6" lengthAdjust="spacingAndGlyphs" stroke="#111" stroke-width="0.22">P&lt;0.001</text>
<text x="224.4" y="318.8" font-size="8.9" fill="#111" font-weight="bold" text-anchor="start" textLength="25.6" lengthAdjust="spacingAndGlyphs">CXCR2</text>
<text x="254.5" y="318.8" font-size="8.9" fill="#111" font-weight="bold" text-anchor="start" textLength="15.6" lengthAdjust="spacingAndGlyphs">low</text>
<text x="307.7" y="318.8" font-size="8.9" fill="#111" font-weight="bold" text-anchor="start" textLength="25.8" lengthAdjust="spacingAndGlyphs">CXCR2</text>
<text x="337.7" y="318.8" font-size="8.9" fill="#111" font-weight="bold" text-anchor="start" textLength="17.7" lengthAdjust="spacingAndGlyphs">high</text>
<text transform="translate(183.2,250.3) rotate(-90)" font-size="9.2" fill="#111" font-weight="normal" text-anchor="middle" textLength="78.9" lengthAdjust="spacingAndGlyphs" stroke="#111" stroke-width="0.35">Hemoglobin (gm/dl)</text>
<circle cx="239.61" cy="204.89" r="1.0" fill="#111"/>
<circle cx="242.89" cy="206.31" r="1.0" fill="#111"/>
<circle cx="246.14" cy="206.30" r="1.0" fill="#111"/>
<circle cx="249.08" cy="204.77" r="1.0" fill="#111"/>
<circle cx="238.06" cy="210.54" r="1.0" fill="#111"/>
<circle cx="240.83" cy="211.24" r="1.0" fill="#111"/>
<circle cx="244.14" cy="212.32" r="1.0" fill="#111"/>
<circle cx="247.35" cy="211.13" r="1.0" fill="#111"/>
<circle cx="250.62" cy="210.19" r="1.0" fill="#111"/>
<circle cx="240.93" cy="216.27" r="1.0" fill="#111"/>
<circle cx="244.17" cy="216.58" r="1.0" fill="#111"/>
<circle cx="247.36" cy="216.40" r="1.0" fill="#111"/>
<circle cx="227.76" cy="218.59" r="1.0" fill="#111"/>
<circle cx="231.01" cy="219.09" r="1.0" fill="#111"/>
<circle cx="234.58" cy="219.98" r="1.0" fill="#111"/>
<circle cx="237.78" cy="220.16" r="1.0" fill="#111"/>
<circle cx="240.81" cy="221.24" r="1.0" fill="#111"/>
<circle cx="244.26" cy="221.72" r="1.0" fill="#111"/>
<circle cx="247.75" cy="220.94" r="1.0" fill="#111"/>
<circle cx="250.80" cy="220.31" r="1.0" fill="#111"/>
<circle cx="254.34" cy="219.95" r="1.0" fill="#111"/>
<circle cx="257.50" cy="219.15" r="1.0" fill="#111"/>
<circle cx="260.63" cy="218.84" r="1.0" fill="#111"/>
<circle cx="244.21" cy="224.83" r="1.0" fill="#111"/>
<circle cx="231.08" cy="226.29" r="1.0" fill="#111"/>
<circle cx="234.69" cy="227.10" r="1.0" fill="#111"/>
<circle cx="237.60" cy="228.03" r="1.0" fill="#111"/>
<circle cx="241.25" cy="228.71" r="1.0" fill="#111"/>
<circle cx="244.40" cy="230.06" r="1.0" fill="#111"/>
<circle cx="247.40" cy="228.85" r="1.0" fill="#111"/>
<circle cx="250.78" cy="228.06" r="1.0" fill="#111"/>
<circle cx="254.02" cy="227.16" r="1.0" fill="#111"/>
<circle cx="257.58" cy="226.43" r="1.0" fill="#111"/>
<circle cx="224.83" cy="230.93" r="1.0" fill="#111"/>
<circle cx="228.33" cy="230.62" r="1.0" fill="#111"/>
<circle cx="231.21" cy="230.87" r="1.0" fill="#111"/>
<circle cx="234.48" cy="230.85" r="1.0" fill="#111"/>
<circle cx="237.80" cy="231.38" r="1.0" fill="#111"/>
<circle cx="241.05" cy="231.39" r="1.0" fill="#111"/>
<circle cx="244.16" cy="231.45" r="1.0" fill="#111"/>
<circle cx="247.49" cy="231.31" r="1.0" fill="#111"/>
<circle cx="250.51" cy="231.08" r="1.0" fill="#111"/>
<circle cx="253.89" cy="231.06" r="1.0" fill="#111"/>
<circle cx="257.32" cy="231.06" r="1.0" fill="#111"/>
<circle cx="260.64" cy="230.98" r="1.0" fill="#111"/>
<circle cx="264.03" cy="230.75" r="1.0" fill="#111"/>
<circle cx="229.57" cy="233.42" r="1.0" fill="#111"/>
<circle cx="232.71" cy="234.11" r="1.0" fill="#111"/>
<circle cx="236.26" cy="234.19" r="1.0" fill="#111"/>
<circle cx="239.63" cy="233.98" r="1.0" fill="#111"/>
<circle cx="242.75" cy="234.84" r="1.0" fill="#111"/>
<circle cx="246.11" cy="234.73" r="1.0" fill="#111"/>
<circle cx="249.19" cy="234.05" r="1.0" fill="#111"/>
<circle cx="252.63" cy="234.04" r="1.0" fill="#111"/>
<circle cx="255.87" cy="233.98" r="1.0" fill="#111"/>
<circle cx="259.16" cy="233.56" r="1.0" fill="#111"/>
<circle cx="223.29" cy="236.53" r="1.0" fill="#111"/>
<circle cx="226.14" cy="236.49" r="1.0" fill="#111"/>
<circle cx="229.59" cy="236.70" r="1.0" fill="#111"/>
<circle cx="233.13" cy="236.95" r="1.0" fill="#111"/>
<circle cx="236.25" cy="237.55" r="1.0" fill="#111"/>
<circle cx="239.53" cy="237.87" r="1.0" fill="#111"/>
<circle cx="242.38" cy="238.05" r="1.0" fill="#111"/>
<circle cx="246.07" cy="238.27" r="1.0" fill="#111"/>
<circle cx="249.20" cy="237.79" r="1.0" fill="#111"/>
<circle cx="252.16" cy="237.62" r="1.0" fill="#111"/>
<circle cx="255.53" cy="237.40" r="1.0" fill="#111"/>
<circle cx="258.78" cy="236.66" r="1.0" fill="#111"/>
<circle cx="262.00" cy="236.84" r="1.0" fill="#111"/>
<circle cx="265.71" cy="236.57" r="1.0" fill="#111"/>
<circle cx="242.60" cy="240.00" r="1.0" fill="#111"/>
<circle cx="246.04" cy="239.99" r="1.0" fill="#111"/>
<circle cx="233.00" cy="242.69" r="1.0" fill="#111"/>
<circle cx="235.92" cy="243.17" r="1.0" fill="#111"/>
<circle cx="239.28" cy="243.40" r="1.0" fill="#111"/>
<circle cx="242.56" cy="244.38" r="1.0" fill="#111"/>
<circle cx="245.63" cy="244.26" r="1.0" fill="#111"/>
<circle cx="249.04" cy="243.34" r="1.0" fill="#111"/>
<circle cx="252.54" cy="243.19" r="1.0" fill="#111"/>
<circle cx="255.55" cy="242.62" r="1.0" fill="#111"/>
<circle cx="236.15" cy="245.61" r="1.0" fill="#111"/>
<circle cx="239.20" cy="246.06" r="1.0" fill="#111"/>
<circle cx="242.49" cy="246.84" r="1.0" fill="#111"/>
<circle cx="246.19" cy="246.89" r="1.0" fill="#111"/>
<circle cx="249.15" cy="245.74" r="1.0" fill="#111"/>
<circle cx="252.71" cy="245.82" r="1.0" fill="#111"/>
<circle cx="239.29" cy="248.46" r="1.0" fill="#111"/>
<circle cx="242.94" cy="248.96" r="1.0" fill="#111"/>
<circle cx="245.97" cy="248.96" r="1.0" fill="#111"/>
<circle cx="249.19" cy="248.25" r="1.0" fill="#111"/>
<circle cx="242.45" cy="251.82" r="1.0" fill="#111"/>
<circle cx="245.93" cy="251.72" r="1.0" fill="#111"/>
<circle cx="244.42" cy="255.47" r="1.0" fill="#111"/>
<circle cx="244.54" cy="259.21" r="1.0" fill="#111"/>
<circle cx="244.01" cy="273.59" r="1.0" fill="#111"/>
<circle cx="323.80" cy="204.75" r="1.0" fill="#111"/>
<circle cx="322.08" cy="212.67" r="1.0" fill="#111"/>
<circle cx="325.41" cy="215.45" r="1.0" fill="#111"/>
<circle cx="320.75" cy="218.87" r="1.0" fill="#111"/>
<circle cx="323.95" cy="220.95" r="1.0" fill="#111"/>
<circle cx="326.82" cy="219.24" r="1.0" fill="#111"/>
<circle cx="317.43" cy="223.90" r="1.0" fill="#111"/>
<circle cx="320.42" cy="225.33" r="1.0" fill="#111"/>
<circle cx="323.74" cy="226.41" r="1.0" fill="#111"/>
<circle cx="327.10" cy="225.40" r="1.0" fill="#111"/>
<circle cx="330.26" cy="223.50" r="1.0" fill="#111"/>
<circle cx="308.90" cy="226.84" r="1.0" fill="#111"/>
<circle cx="312.63" cy="227.39" r="1.0" fill="#111"/>
<circle cx="315.94" cy="228.18" r="1.0" fill="#111"/>
<circle cx="318.78" cy="228.82" r="1.0" fill="#111"/>
<circle cx="321.99" cy="229.67" r="1.0" fill="#111"/>
<circle cx="325.70" cy="229.58" r="1.0" fill="#111"/>
<circle cx="328.86" cy="229.27" r="1.0" fill="#111"/>
<circle cx="332.17" cy="228.42" r="1.0" fill="#111"/>
<circle cx="335.20" cy="227.98" r="1.0" fill="#111"/>
<circle cx="338.15" cy="227.15" r="1.0" fill="#111"/>
<circle cx="315.65" cy="232.16" r="1.0" fill="#111"/>
<circle cx="319.01" cy="232.78" r="1.0" fill="#111"/>
<circle cx="321.90" cy="233.05" r="1.0" fill="#111"/>
<circle cx="325.20" cy="233.50" r="1.0" fill="#111"/>
<circle cx="328.58" cy="232.58" r="1.0" fill="#111"/>
<circle cx="332.07" cy="231.86" r="1.0" fill="#111"/>
<circle cx="307.41" cy="234.93" r="1.0" fill="#111"/>
<circle cx="310.68" cy="235.19" r="1.0" fill="#111"/>
<circle cx="313.99" cy="235.60" r="1.0" fill="#111"/>
<circle cx="317.10" cy="235.81" r="1.0" fill="#111"/>
<circle cx="320.79" cy="236.32" r="1.0" fill="#111"/>
<circle cx="323.63" cy="237.00" r="1.0" fill="#111"/>
<circle cx="327.35" cy="236.80" r="1.0" fill="#111"/>
<circle cx="330.08" cy="236.00" r="1.0" fill="#111"/>
<circle cx="333.30" cy="235.34" r="1.0" fill="#111"/>
<circle cx="336.55" cy="234.97" r="1.0" fill="#111"/>
<circle cx="339.91" cy="234.42" r="1.0" fill="#111"/>
<circle cx="302.91" cy="238.05" r="1.0" fill="#111"/>
<circle cx="305.87" cy="238.30" r="1.0" fill="#111"/>
<circle cx="309.19" cy="238.19" r="1.0" fill="#111"/>
<circle cx="312.33" cy="238.28" r="1.0" fill="#111"/>
<circle cx="315.54" cy="238.19" r="1.0" fill="#111"/>
<circle cx="318.70" cy="238.94" r="1.0" fill="#111"/>
<circle cx="322.25" cy="238.74" r="1.0" fill="#111"/>
<circle cx="325.25" cy="238.99" r="1.0" fill="#111"/>
<circle cx="328.52" cy="238.46" r="1.0" fill="#111"/>
<circle cx="331.89" cy="238.42" r="1.0" fill="#111"/>
<circle cx="335.38" cy="238.69" r="1.0" fill="#111"/>
<circle cx="338.14" cy="238.51" r="1.0" fill="#111"/>
<circle cx="341.80" cy="237.80" r="1.0" fill="#111"/>
<circle cx="344.91" cy="238.28" r="1.0" fill="#111"/>
<circle cx="302.38" cy="241.56" r="1.0" fill="#111"/>
<circle cx="306.18" cy="241.55" r="1.0" fill="#111"/>
<circle cx="309.39" cy="241.97" r="1.0" fill="#111"/>
<circle cx="312.27" cy="242.20" r="1.0" fill="#111"/>
<circle cx="315.47" cy="241.72" r="1.0" fill="#111"/>
<circle cx="319.03" cy="242.13" r="1.0" fill="#111"/>
<circle cx="322.31" cy="242.55" r="1.0" fill="#111"/>
<circle cx="325.58" cy="242.34" r="1.0" fill="#111"/>
<circle cx="328.71" cy="242.09" r="1.0" fill="#111"/>
<circle cx="332.09" cy="241.67" r="1.0" fill="#111"/>
<circle cx="335.43" cy="241.68" r="1.0" fill="#111"/>
<circle cx="338.31" cy="241.85" r="1.0" fill="#111"/>
<circle cx="341.53" cy="241.36" r="1.0" fill="#111"/>
<circle cx="345.04" cy="241.60" r="1.0" fill="#111"/>
<circle cx="312.74" cy="244.03" r="1.0" fill="#111"/>
<circle cx="316.65" cy="244.65" r="1.0" fill="#111"/>
<circle cx="320.03" cy="244.89" r="1.0" fill="#111"/>
<circle cx="323.51" cy="245.37" r="1.0" fill="#111"/>
<circle cx="327.38" cy="244.83" r="1.0" fill="#111"/>
<circle cx="331.09" cy="244.95" r="1.0" fill="#111"/>
<circle cx="334.59" cy="244.57" r="1.0" fill="#111"/>
<circle cx="316.25" cy="247.11" r="1.0" fill="#111"/>
<circle cx="320.22" cy="248.12" r="1.0" fill="#111"/>
<circle cx="323.51" cy="248.17" r="1.0" fill="#111"/>
<circle cx="327.60" cy="247.80" r="1.0" fill="#111"/>
<circle cx="331.05" cy="247.24" r="1.0" fill="#111"/>
<circle cx="316.66" cy="250.32" r="1.0" fill="#111"/>
<circle cx="319.82" cy="250.41" r="1.0" fill="#111"/>
<circle cx="323.75" cy="250.89" r="1.0" fill="#111"/>
<circle cx="327.32" cy="250.73" r="1.0" fill="#111"/>
<circle cx="331.34" cy="250.41" r="1.0" fill="#111"/>
<circle cx="318.07" cy="253.00" r="1.0" fill="#111"/>
<circle cx="321.84" cy="253.66" r="1.0" fill="#111"/>
<circle cx="325.49" cy="253.56" r="1.0" fill="#111"/>
<circle cx="329.51" cy="252.81" r="1.0" fill="#111"/>
<circle cx="320.37" cy="255.46" r="1.0" fill="#111"/>
<circle cx="323.61" cy="255.60" r="1.0" fill="#111"/>
<circle cx="327.45" cy="255.41" r="1.0" fill="#111"/>
<circle cx="316.87" cy="258.62" r="1.0" fill="#111"/>
<circle cx="320.14" cy="259.25" r="1.0" fill="#111"/>
<circle cx="324.08" cy="260.30" r="1.0" fill="#111"/>
<circle cx="327.13" cy="259.25" r="1.0" fill="#111"/>
<circle cx="330.94" cy="258.19" r="1.0" fill="#111"/>
<circle cx="322.23" cy="263.28" r="1.0" fill="#111"/>
<circle cx="325.90" cy="263.16" r="1.0" fill="#111"/>
<circle cx="323.70" cy="267.70" r="1.0" fill="#111"/>
<line x1="218.20" y1="232.60" x2="270.60" y2="232.60" stroke="#222" stroke-width="1.5"/>
<line x1="297.70" y1="239.50" x2="350.80" y2="239.50" stroke="#222" stroke-width="1.5"/>
<line x1="407.70" y1="190.40" x2="407.70" y2="304.40" stroke="#a0a0a0" stroke-width="1.0"/>
<line x1="405.00" y1="304.00" x2="520.00" y2="304.00" stroke="#a0a0a0" stroke-width="1.0"/>
<line x1="463.90" y1="304.00" x2="463.90" y2="306.60" stroke="#a0a0a0" stroke-width="0.9"/>
<line x1="405.00" y1="304.00" x2="407.70" y2="304.00" stroke="#a0a0a0" stroke-width="0.9"/>
<text x="399.8" y="307.1" font-size="8.7" fill="#111" font-weight="normal" text-anchor="end" stroke="#111" stroke-width="0.2">0</text>
<line x1="405.00" y1="285.07" x2="407.70" y2="285.07" stroke="#a0a0a0" stroke-width="0.9"/>
<text x="399.8" y="288.17" font-size="8.7" fill="#111" font-weight="normal" text-anchor="end" stroke="#111" stroke-width="0.2">10</text>
<line x1="405.00" y1="266.14" x2="407.70" y2="266.14" stroke="#a0a0a0" stroke-width="0.9"/>
<text x="399.8" y="269.24" font-size="8.7" fill="#111" font-weight="normal" text-anchor="end" stroke="#111" stroke-width="0.2">20</text>
<line x1="405.00" y1="247.21" x2="407.70" y2="247.21" stroke="#a0a0a0" stroke-width="0.9"/>
<text x="399.8" y="250.31" font-size="8.7" fill="#111" font-weight="normal" text-anchor="end" stroke="#111" stroke-width="0.2">30</text>
<line x1="405.00" y1="228.28" x2="407.70" y2="228.28" stroke="#a0a0a0" stroke-width="0.9"/>
<text x="399.8" y="231.38" font-size="8.7" fill="#111" font-weight="normal" text-anchor="end" stroke="#111" stroke-width="0.2">40</text>
<line x1="405.00" y1="209.35" x2="407.70" y2="209.35" stroke="#a0a0a0" stroke-width="0.9"/>
<text x="399.8" y="212.45" font-size="8.7" fill="#111" font-weight="normal" text-anchor="end" stroke="#111" stroke-width="0.2">50</text>
<line x1="405.00" y1="190.42" x2="407.70" y2="190.42" stroke="#a0a0a0" stroke-width="0.9"/>
<text x="399.8" y="193.52" font-size="8.7" fill="#111" font-weight="normal" text-anchor="end" stroke="#111" stroke-width="0.2">60</text>
<rect x="424.80" y="237.75" width="22.30" height="66.25" fill="#000" stroke="none" stroke-width="1"/>
<rect x="480.70" y="203.67" width="22.30" height="100.33" fill="#000" stroke="none" stroke-width="1"/>
<path d="M492.60,189.20L492.60,194.60M490.26,190.55L494.94,193.25M494.94,190.55L490.26,193.25" stroke="#000" stroke-width="1.3" stroke-linecap="round"/>
<circle cx="492.6" cy="191.9" r="1.17" fill="#000"/>
<text x="416.3" y="318.2" font-size="7.9" fill="#111" font-weight="normal" text-anchor="start" textLength="39.2" lengthAdjust="spacingAndGlyphs" stroke="#111" stroke-width="0.25">CXCR2 low</text>
<text x="471.3" y="318.2" font-size="7.9" fill="#111" font-weight="normal" text-anchor="start" textLength="41.2" lengthAdjust="spacingAndGlyphs" stroke="#111" stroke-width="0.25">CXCR2 high</text>
<text transform="translate(376.6,253.4) rotate(-90)" font-size="9.4" fill="#111" font-weight="normal" text-anchor="middle" textLength="89.5" lengthAdjust="spacingAndGlyphs" stroke="#111" stroke-width="0.3">Percentage Transfusion</text>
<text transform="translate(388.0,254.1) rotate(-90)" font-size="9.4" fill="#111" font-weight="normal" text-anchor="middle" textLength="48.2" lengthAdjust="spacingAndGlyphs" stroke="#111" stroke-width="0.3">dependence</text>
</svg>
</body></html>
